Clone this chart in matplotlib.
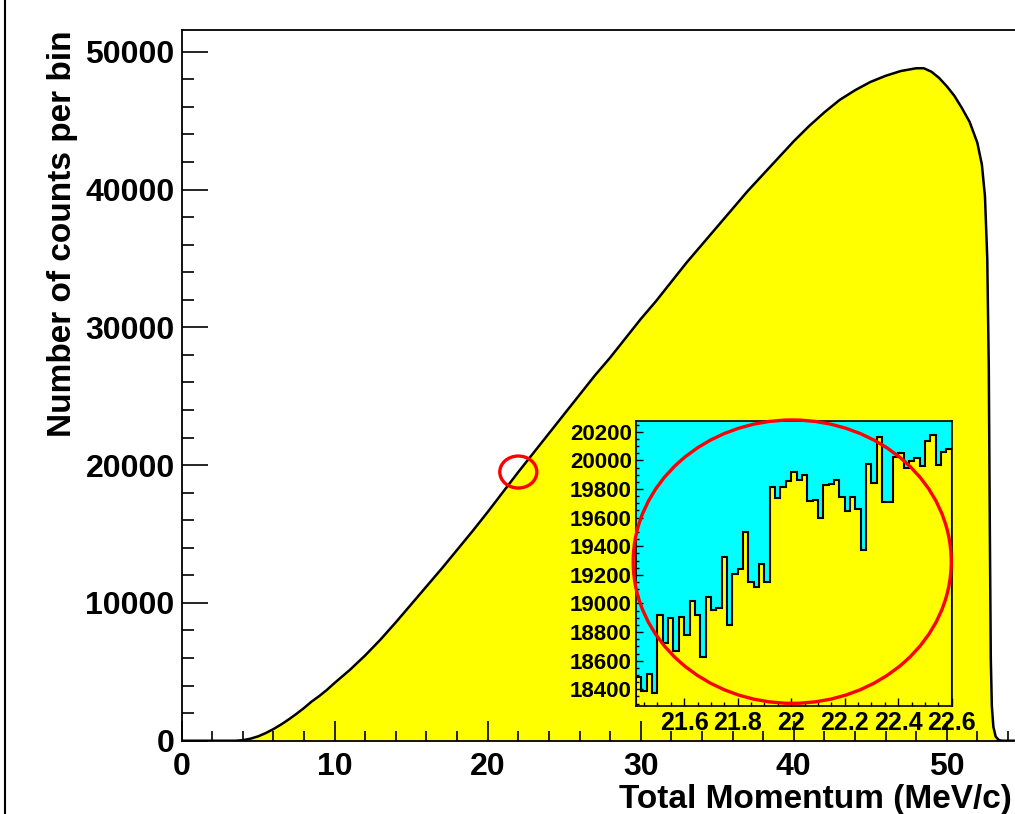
import matplotlib
matplotlib.use("Agg")
import matplotlib.pyplot as plt
from matplotlib.patches import Ellipse
from matplotlib.ticker import MultipleLocator
from matplotlib.lines import Line2D
import numpy as np

plt.rcParams['font.family'] = ['Liberation Sans', 'DejaVu Sans']
plt.rcParams['font.weight'] = 'bold'

# main spectrum (MeV/c, counts per bin)
momentum = [0, 1, 2, 3, 3.5, 4, 4.5, 5, 5.5, 6, 6.5, 7, 7.5, 8, 8.5, 9, 9.5, 10,
            11, 12, 13, 14, 15, 16, 17, 18, 19, 20, 21, 22, 23, 24, 25, 26, 27,
            28, 29, 30, 31, 32, 33, 34, 35, 36, 37, 38, 39, 40, 41, 42, 43, 44,
            45, 46, 47, 48, 48.5, 49, 49.5, 50, 50.5, 51, 51.5, 52, 52.3, 52.5,
            52.65, 52.75, 52.82, 52.88, 52.95, 53.05, 53.2, 53.4, 53.6, 55]
counts = [0, 0, 0, 0, 0, 40, 150, 320, 560, 850, 1180, 1550, 1950, 2380, 2850,
          3250, 3700, 4200, 5150, 6200, 7350, 8600, 9900, 11200, 12500, 13850,
          15200, 16600, 18050, 19500, 20900, 22300, 23700, 25100, 26500, 27800,
          29200, 30600, 31900, 33300, 34700, 36000, 37300, 38600, 39900, 41100,
          42300, 43500, 44600, 45600, 46500, 47200, 47800, 48250, 48600, 48800,
          48800, 48550, 48100, 47500, 46800, 45900, 44900, 43400, 41800, 39500,
          35000, 27000, 15000, 6000, 2500, 1000, 300, 50, 0, 0]

# zoomed bins around 22 MeV/c
zoom_lo = 21.42
zoom_bin = 0.02
zoom_counts = [18488, 18390, 18504, 18376, 18919, 18726, 18896, 18670, 18903,
               18777, 19017, 18919, 18623, 19047, 18954, 18966, 19327, 18849,
               19206, 19240, 19501, 19152, 19112, 19273, 19152, 19811, 19739,
               19816, 19858, 19921, 19862, 19897, 19718, 19723, 19599, 19827,
               19834, 19862, 19741, 19648, 19741, 19657, 19373, 19974, 19839,
               20160, 19709, 19709, 20021, 20049, 19944, 19997, 20014, 19960,
               20137, 20179, 19967, 20056, 20077]

fig = plt.figure(figsize=(10.15, 8.14), dpi=100)
ax = fig.add_axes([0.179, 0.090, 0.8291, 0.8731])

ax.fill_between(momentum, counts, 0, color='#ffff00', lw=0)
ax.plot(momentum, counts, color='black', lw=1.8)

ax.set_xlim(0, 55)
ax.set_ylim(0, 51574)
ax.xaxis.set_major_locator(MultipleLocator(10))
ax.xaxis.set_minor_locator(MultipleLocator(2))
ax.yaxis.set_major_locator(MultipleLocator(10000))
ax.yaxis.set_minor_locator(MultipleLocator(2000))
ax.tick_params(axis='both', which='both', direction='in', width=1.2,
               top=False, right=False, labelsize=23)
ax.tick_params(axis='y', which='major', length=18.7, pad=5)
ax.tick_params(axis='y', which='minor', length=8.6)
ax.tick_params(axis='x', which='major', length=14.4, pad=8)
ax.tick_params(axis='x', which='minor', length=7.2)
for s in ax.spines.values():
    s.set_linewidth(1.3)

ax.text(-0.142, 1.0, 'Number of counts per bin', rotation=90, ha='center',
        va='top', fontsize=24, fontweight='bold', transform=ax.transAxes)
ax.text(0.9867, -0.083, 'Total Momentum (MeV/c)', ha='right', va='center',
        fontsize=24, fontweight='bold', transform=ax.transAxes)

# small marker circle on the main curve
ax.add_patch(Ellipse((22.0, 19500), 2.42, 2322, fill=False, color='red',
                     lw=2.4, zorder=5))

# inset
ax2 = fig.add_axes([0.6266, 0.1330, 0.311, 0.3498])
ax2.set_facecolor('#00ffff')
edges = zoom_lo + zoom_bin * np.arange(len(zoom_counts) + 1)
ax2.stairs(zoom_counts, edges, fill=True, color='#ffff00', baseline=0)
ax2.stairs(zoom_counts, edges, color='black', lw=1.5, baseline=0)
ax2.set_xlim(zoom_lo, 22.6)
ax2.set_ylim(18285, 20275)
ax2.xaxis.set_major_locator(MultipleLocator(0.2))
ax2.xaxis.set_minor_locator(MultipleLocator(0.05))
ax2.yaxis.set_major_locator(MultipleLocator(200))
ax2.yaxis.set_minor_locator(MultipleLocator(50))
ax2.xaxis.set_major_formatter(lambda v, p: f'{v:g}')
ax2.tick_params(axis='both', which='both', direction='in', width=1,
                top=False, right=False)
ax2.tick_params(axis='y', which='major', length=5, pad=3, labelsize=16)
ax2.tick_params(axis='y', which='minor', length=2.5)
ax2.tick_params(axis='x', which='major', length=6, pad=4, labelsize=18)
ax2.tick_params(axis='x', which='minor', length=3)
for s in ax2.spines.values():
    s.set_linewidth(1.2)

ax2.add_patch(Ellipse((22.004, 19292), 1.189, 1980, fill=False, color='red',
                      lw=2.4, clip_on=False, zorder=5))

# left border of the canvas
fig.add_artist(Line2D([5 / 1015, 5 / 1015], [0, 1], color='black', lw=1.5,
                      transform=fig.transFigure))

fig.savefig('out.png', dpi=100)
